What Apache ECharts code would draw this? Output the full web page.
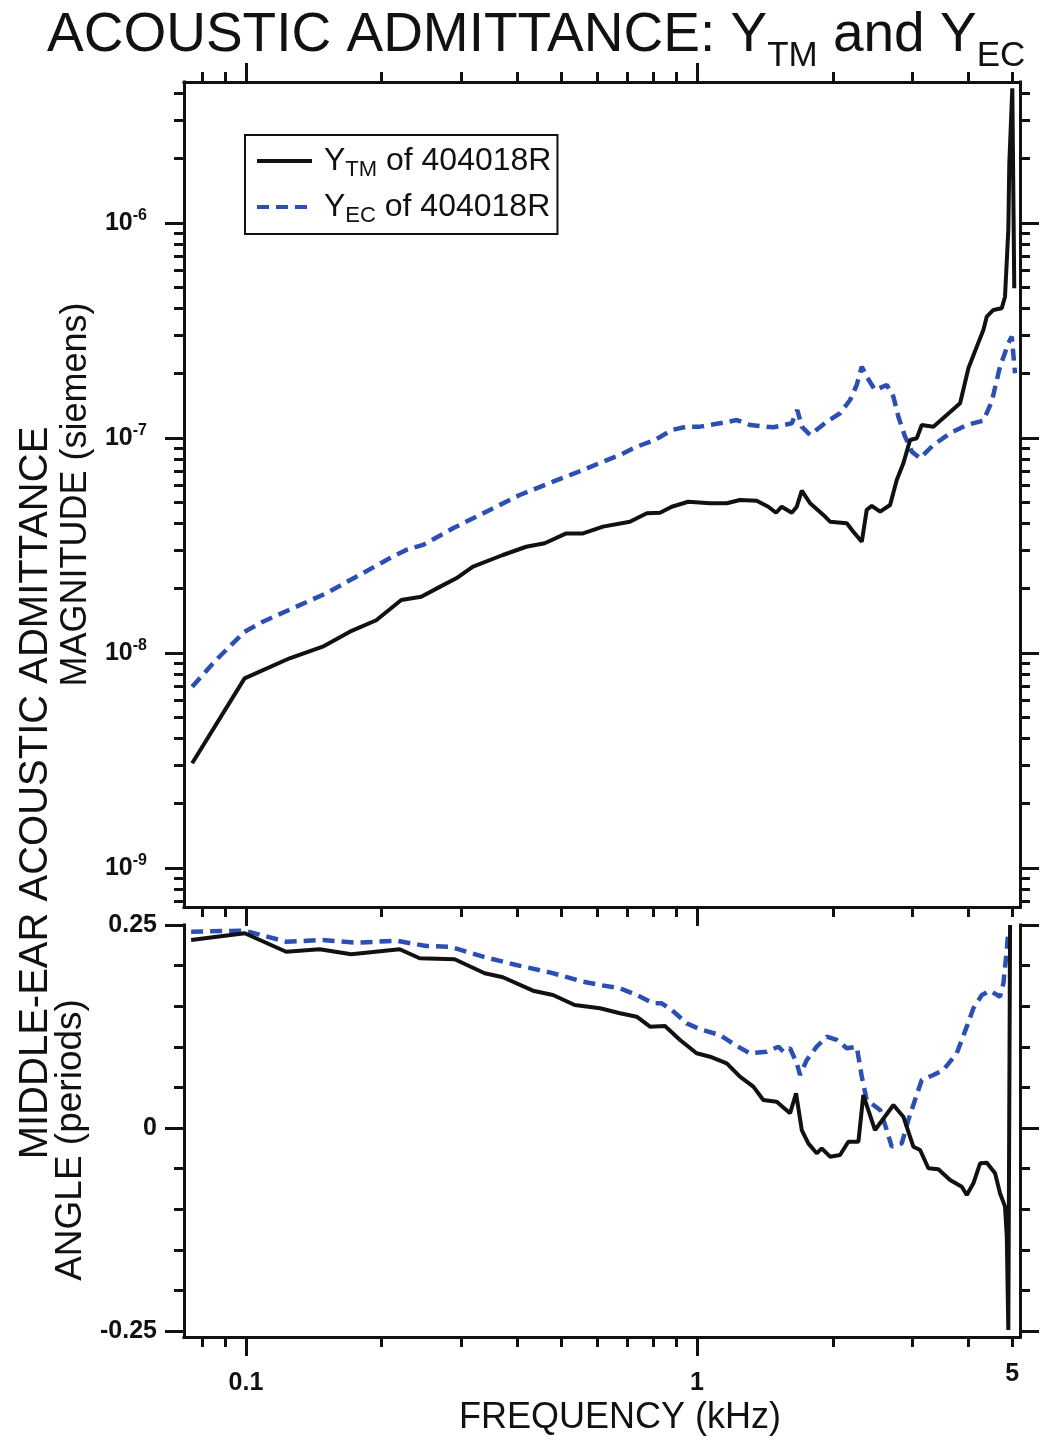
<!DOCTYPE html>
<html><head><meta charset="utf-8">
<script src="https://cdn.jsdelivr.net/npm/echarts@6/dist/echarts.min.js"></script>
<style>html,body{margin:0;padding:0;background:#fff}#c{width:1045px;height:1441px}</style>
</head><body><div id="c"></div>
<script>
// ---------- data ----------
const tmMagFreq = [0.0760,0.0993,0.125,0.148,0.170,0.1945,0.221,0.2447,0.269,0.2926,0.3187,0.3713,0.418,0.4596,0.513,0.559,0.619,0.710,0.774,0.828,0.879,0.956,1.069,1.164,1.245,1.356,1.439,1.497,1.541,1.622,1.664,1.707,1.781,1.906,1.972,2.148,2.221,2.319,2.378,2.440,2.546,2.679,2.772,2.867,2.967,3.07,3.149,3.342,3.578,3.83,3.996,4.171,4.313,4.389,4.539,4.737,4.817,4.899,4.924,5.0,5.05];
const tmMag = [3.07e-9,7.62e-9,9.45e-9,1.07e-8,1.256e-8,1.42e-8,1.764e-8,1.827e-8,2.03e-8,2.225e-8,2.52e-8,2.856e-8,3.12e-8,3.237e-8,3.60e-8,3.60e-8,3.87e-8,4.08e-8,4.47e-8,4.49e-8,4.79e-8,5.05e-8,4.97e-8,4.97e-8,5.15e-8,5.11e-8,4.79e-8,4.49e-8,4.79e-8,4.49e-8,4.79e-8,5.69e-8,4.97e-8,4.385e-8,4.08e-8,4.01e-8,3.665e-8,3.29e-8,4.63e-8,4.83e-8,4.54e-8,4.88e-8,6.38e-8,7.62e-8,9.79e-8,9.97e-8,1.149e-7,1.129e-7,1.279e-7,1.45e-7,2.11e-7,2.66e-7,3.18e-7,3.67e-7,3.94e-7,4.01e-7,4.54e-7,9.28e-7,1.896e-6,4.23e-6,4.97e-7];

const ecMagFreq = [0.0760,0.0859,0.0993,0.109,0.127,0.1507,0.1757,0.2083,0.2266,0.2469,0.2877,0.341,0.4045,0.4794,0.559,0.619,0.675,0.735,0.807,0.879,0.949,1.016,1.144,1.225,1.311,1.476,1.622,1.669,1.707,1.781,1.939,2.075,2.184,2.26,2.319,2.378,2.481,2.634,2.725,2.795,2.892,2.993,3.123,3.342,3.639,3.963,4.313,4.501,4.696,4.899,4.986,5.07];
const ecMag = [6.97e-9,9.28e-9,1.256e-8,1.398e-8,1.614e-8,1.896e-8,2.264e-8,2.757e-8,3.014e-8,3.18e-8,3.80e-8,4.54e-8,5.43e-8,6.26e-8,7.10e-8,7.76e-8,8.34e-8,9.11e-8,9.79e-8,1.089e-7,1.129e-7,1.129e-7,1.178e-7,1.212e-7,1.149e-7,1.121e-7,1.17e-7,1.35e-7,1.129e-7,1.033e-7,1.19e-7,1.303e-7,1.502e-7,1.764e-7,2.146e-7,1.928e-7,1.672e-7,1.764e-7,1.556e-7,1.256e-7,1.014e-7,8.64e-8,8.05e-8,9.28e-8,1.052e-7,1.149e-7,1.204e-7,1.475e-7,2.146e-7,2.757e-7,2.96e-7,2.0e-7];

const tmAngFreq = [0.0756,0.0994,0.1228,0.1457,0.1712,0.2192,0.2427,0.2902,0.3383,0.3713,0.4328,0.4794,0.5356,0.6095,0.675,0.735,0.7867,0.8492,0.917,0.998,1.069,1.164,1.245,1.333,1.403,1.502,1.608,1.658,1.707,1.765,1.842,1.890,1.972,2.075,2.165,2.279,2.337,2.481,2.725,2.867,3.017,3.123,3.258,3.428,3.639,3.864,3.963,4.099,4.242,4.389,4.579,4.696,4.817,4.861,4.899,4.943];
const tmAng = [0.2315,0.2398,0.2171,0.2201,0.2139,0.2201,0.2090,0.2078,0.1905,0.1856,0.1691,0.1638,0.1515,0.1474,0.1413,0.1371,0.1248,0.1256,0.1084,0.0920,0.0878,0.0797,0.0632,0.0509,0.0345,0.0324,0.0181,0.0427,-0.0025,-0.0189,-0.0312,-0.025,-0.0353,-0.0333,-0.0169,-0.0169,0.0406,-0.0025,0.0283,0.0139,-0.023,-0.0271,-0.0496,-0.0509,-0.064,-0.0723,-0.0825,-0.0681,-0.0435,-0.0427,-0.0558,-0.0804,-0.0969,-0.1339,-0.2488,0.25];

const ecAngFreq = [0.0756,0.0994,0.1228,0.148,0.1757,0.2154,0.2511,0.2829,0.3354,0.3975,0.4714,0.559,0.6095,0.675,0.735,0.8,0.835,0.879,0.949,1.016,1.125,1.214,1.311,1.427,1.515,1.554,1.608,1.664,1.692,1.751,1.842,1.939,2.040,2.148,2.26,2.319,2.378,2.546,2.634,2.702,2.844,2.941,3.043,3.149,3.342,3.516,3.765,3.963,4.099,4.279,4.463,4.696,4.778,4.861,4.899];
const ecAng = [0.2418,0.2430,0.2294,0.2315,0.2282,0.2307,0.2241,0.2233,0.211,0.2007,0.1917,0.1802,0.1761,0.172,0.1638,0.1536,0.1536,0.1453,0.1289,0.1216,0.1145,0.1022,0.092,0.094,0.1001,0.094,0.0982,0.0797,0.0653,0.0837,0.1001,0.1124,0.1084,0.0982,0.1001,0.0632,0.0345,0.0222,-0.0025,-0.023,-0.0189,0.0099,0.0345,0.0591,0.0653,0.0714,0.092,0.1248,0.1474,0.1638,0.1691,0.1617,0.1782,0.2192,0.2438];

const seriesNames = ['Y_TM of 404018R', 'Y_EC of 404018R'];

// ---------- ticks ----------
const xMajorTicks = [0.1, 1];
const xMinorTicks = [0.08,0.09,0.2,0.3,0.4,0.5,0.6,0.7,0.8,0.9,2,3,4,5];
const xTickLabels = [0.1, 1, 5];
const magMajorTicks = [1e-9,1e-8,1e-7,1e-6];
const magMinorTicks = [7e-10,8e-10,9e-10,
  2e-9,3e-9,4e-9,5e-9,6e-9,7e-9,8e-9,9e-9,
  2e-8,3e-8,4e-8,5e-8,6e-8,7e-8,8e-8,9e-8,
  2e-7,3e-7,4e-7,5e-7,6e-7,7e-7,8e-7,9e-7,
  2e-6,3e-6,4e-6];
const angMajorTicks = [-0.25, 0, 0.25];
const angMinorTicks = [-0.2,-0.15,-0.1,-0.05,0.05,0.1,0.15,0.2];

// ---------- style / layout ----------
const FONT = '"Liberation Sans", Arial, Helvetica, sans-serif';
const INK = '#111';
const BLUE = '#2c4fb3';
const X_MIN = 0.0729, X_MAX = 5.2;
const MAG_MIN = 6.585e-10, MAG_MAX = 4.526e-6;
const ANG_MIN = -0.2574, ANG_MAX = 0.25;
const MAJ = 19, MIN = 10;

function zip(a, b) { return a.map((v, i) => [v, b[i]]); }

function ax(type, min, max, gridIndex, position, ticks, len, line) {
  return {
    type, min, max, gridIndex, position,
    axisLine: { show: line, onZero: false, lineStyle: { color: INK, width: 3, cap: 'square' } },
    axisTick: { show: true, inside: false, length: len, customValues: ticks, lineStyle: { color: INK, width: 3 } },
    axisLabel: { show: false },
    splitLine: { show: false },
    minorTick: { show: false }
  };
}

const xAxes = [
  ax('log', X_MIN, X_MAX, 0, 'bottom', xMajorTicks, MAJ, true),
  ax('log', X_MIN, X_MAX, 0, 'bottom', xMinorTicks, MIN, false),
  ax('log', X_MIN, X_MAX, 0, 'top', xMajorTicks, MAJ, true),
  ax('log', X_MIN, X_MAX, 0, 'top', xMinorTicks, MIN, false),
  ax('log', X_MIN, X_MAX, 1, 'bottom', xMajorTicks, MAJ, true),
  ax('log', X_MIN, X_MAX, 1, 'bottom', xMinorTicks, MIN, false)
];
xAxes[4].axisLabel = {
  show: true, customValues: xTickLabels, margin: 22,
  formatter: v => { const s = String(+(+v).toPrecision(3)); return s === '5' ? '{hi|5}' : '{lo|' + s + '}'; },
  rich: {
    hi: { fontFamily: FONT, fontSize: 25, fontWeight: 'bold', color: INK, lineHeight: 30 },
    lo: { fontFamily: FONT, fontSize: 25, fontWeight: 'bold', color: INK, lineHeight: 30, padding: [19, 0, 0, 0] }
  }
};
xAxes[4].name = 'FREQUENCY (kHz)';
xAxes[4].nameLocation = 'middle';
xAxes[4].nameGap = 63;
xAxes[4].nameTextStyle = { fontFamily: FONT, fontSize: 36, color: INK, padding: [0, 0, 0, 36] };

const yAxes = [
  ax('log', MAG_MIN, MAG_MAX, 0, 'left', magMajorTicks, MAJ, true),
  ax('log', MAG_MIN, MAG_MAX, 0, 'left', magMinorTicks, MIN, false),
  ax('log', MAG_MIN, MAG_MAX, 0, 'right', magMajorTicks, MAJ, true),
  ax('log', MAG_MIN, MAG_MAX, 0, 'right', magMinorTicks, MIN, false),
  ax('value', ANG_MIN, ANG_MAX, 1, 'left', angMajorTicks, MAJ, true),
  ax('value', ANG_MIN, ANG_MAX, 1, 'left', angMinorTicks, MIN, false),
  ax('value', ANG_MIN, ANG_MAX, 1, 'right', angMajorTicks, MAJ, true),
  ax('value', ANG_MIN, ANG_MAX, 1, 'right', angMinorTicks, MIN, false)
];
yAxes[0].axisLabel = {
  show: true, customValues: magMajorTicks, margin: 37,
  formatter: v => '{b|10}{e|' + Math.round(Math.log10(v)) + '}',
  rich: {
    b: { fontFamily: FONT, fontSize: 25, fontWeight: 'bold', color: INK, lineHeight: 30 },
    e: { fontFamily: FONT, fontSize: 16, fontWeight: 'bold', color: INK, lineHeight: 14, verticalAlign: 'top' }
  }
};
yAxes[0].name = 'MAGNITUDE (siemens)';
yAxes[0].nameLocation = 'middle';
yAxes[0].nameGap = 86;
yAxes[0].nameTextStyle = { fontFamily: FONT, fontSize: 36, color: INK };
yAxes[4].axisLabel = {
  show: true, customValues: angMajorTicks, margin: 27,
  formatter: v => String(+(+v).toFixed(2)),
  fontFamily: FONT, fontSize: 25, fontWeight: 'bold', color: INK
};
yAxes[4].name = 'ANGLE (periods)';
yAxes[4].nameLocation = 'middle';
yAxes[4].nameGap = 86;
yAxes[4].nameTextStyle = { fontFamily: FONT, fontSize: 37, color: INK, padding: [0, 18, 0, 0] };

const blackLine = { color: INK, width: 4 };
const blueLine = { color: BLUE, width: 4.5, type: [12, 7] };

const option = {
  animation: false,
  backgroundColor: '#fff',
  title: {
    left: 42, top: 1,
    text: '{n|ACOUSTIC ADMITTANCE: Y}{s|TM}{n| and Y}{s|EC}',
    textStyle: {
      rich: {
        n: { fontFamily: FONT, fontSize: 55, fontWeight: 'normal', color: INK, lineHeight: 60 },
        s: { fontFamily: FONT, fontSize: 35, fontWeight: 'normal', color: INK, lineHeight: 2, verticalAlign: 'top', padding: [33, 0, 0, 0] }
      }
    }
  },
  grid: [
    { left: 184, top: 82, width: 836, height: 825, containLabel: false },
    { left: 184, top: 925, width: 836, height: 412, containLabel: false }
  ],
  legend: {
    left: 245, top: 135, orient: 'vertical',
    data: seriesNames,
    selectedMode: false,
    itemWidth: 55, itemHeight: 14, itemGap: 8,
    padding: [8, 6, 7, 10],
    borderColor: INK, borderWidth: 2,
    itemStyle: { opacity: 0 },
    lineStyle: { width: 4 },
    formatter: name => '{y|Y}{s|' + (name.indexOf('TM') > 0 ? 'TM' : 'EC') + '}{n| of 404018R}',
    textStyle: {
      rich: {
        y: { fontFamily: FONT, fontSize: 32, color: INK, lineHeight: 36, padding: [0, 0, 0, 7] },
        s: { fontFamily: FONT, fontSize: 22, color: INK, lineHeight: 2, verticalAlign: 'top', padding: [16, 0, 0, 0] },
        n: { fontFamily: FONT, fontSize: 32, color: INK, lineHeight: 36 }
      }
    }
  },
  xAxis: xAxes,
  yAxis: yAxes,
  graphic: [{
    type: 'text', x: 36, y: 793, rotation: Math.PI / 2,
    style: { text: 'MIDDLE-EAR ACOUSTIC ADMITTANCE', fontFamily: FONT, fontSize: 40, fill: INK, align: 'center', verticalAlign: 'middle' }
  }],
  series: [
    { name: seriesNames[0], type: 'line', xAxisIndex: 0, yAxisIndex: 0, symbol: 'none', data: zip(tmMagFreq, tmMag), lineStyle: blackLine, itemStyle: { color: INK }, z: 3 },
    { name: seriesNames[1], type: 'line', xAxisIndex: 0, yAxisIndex: 0, symbol: 'none', data: zip(ecMagFreq, ecMag), lineStyle: blueLine, itemStyle: { color: BLUE }, z: 2 },
    { name: seriesNames[0], type: 'line', xAxisIndex: 4, yAxisIndex: 4, symbol: 'none', data: zip(tmAngFreq, tmAng), lineStyle: blackLine, itemStyle: { color: INK }, z: 3 },
    { name: seriesNames[1], type: 'line', xAxisIndex: 4, yAxisIndex: 4, symbol: 'none', data: zip(ecAngFreq, ecAng), lineStyle: blueLine, itemStyle: { color: BLUE }, z: 2 }
  ]
};

const chart = echarts.init(document.getElementById('c'), null, { renderer: 'canvas' });
chart.setOption(option);
</script>
</body></html>
